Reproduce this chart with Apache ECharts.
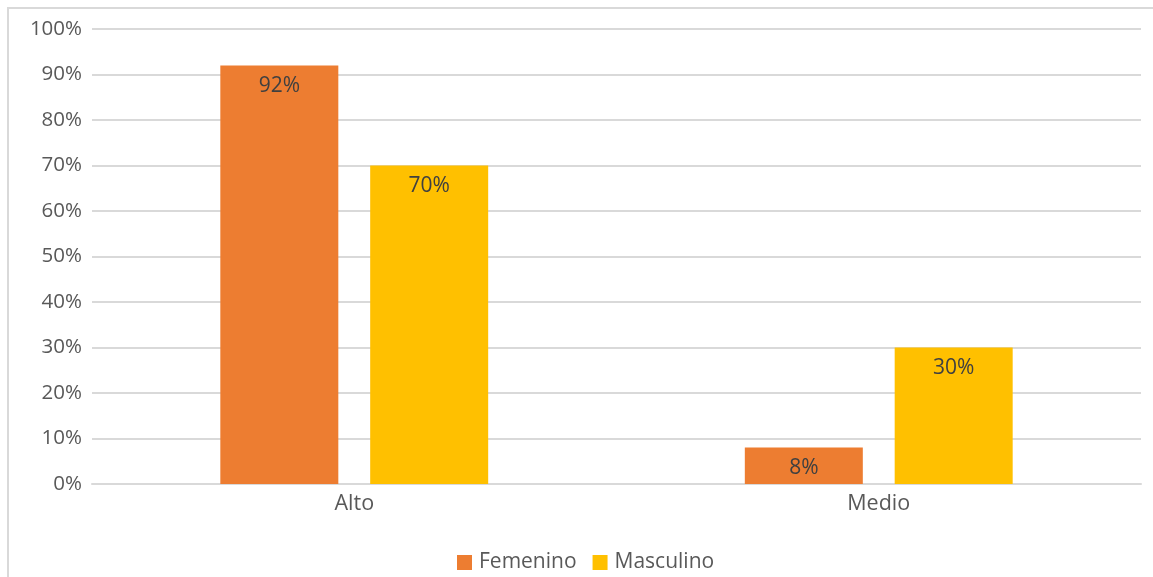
<!DOCTYPE html>
<html>
<head>
<meta charset="utf-8">
<script src="https://cdn.jsdelivr.net/npm/echarts@6/dist/echarts.min.js"></script>
<style>
html,body{margin:0;padding:0;overflow:hidden;background:#fff;}
#frame{position:absolute;left:7px;top:7px;width:1160px;height:600px;border:2px solid #d9d9d9;box-sizing:border-box;}
#chart{position:absolute;left:0;top:0;width:1153px;height:577px;}
</style>
</head>
<body>
<div id="frame"></div>
<div id="chart"></div>
<script>
const categories = ['Alto', 'Medio'];
const femenino = [92, 8];
const masculino = [70, 30];
const seriesNames = ['Femenino', 'Masculino'];

const font = '"Open Sans", "Noto Sans", sans-serif';
const chart = echarts.init(document.getElementById('chart'));
const labelCfg = {
  show: true, position: 'insideTop', distance: 10,
  formatter: p => p.value + '%', color: '#404040', fontSize: 21, fontFamily: font
};
chart.setOption({
  animation: false,
  grid: {left: 92, right: 12, top: 29, bottom: 93, containLabel: false},
  legend: {
    data: seriesNames, left: 452, top: 547, itemWidth: 15, itemHeight: 15, itemGap: 16,
    icon: 'rect',
    textStyle: {color: '#595959', fontSize: 21, fontFamily: font, padding: [0, 0, 0, 2]}
  },
  xAxis: {
    type: 'category', data: categories,
    axisLine: {lineStyle: {color: '#d9d9d9', width: 2}},
    axisTick: {show: false},
    axisLabel: {color: '#595959', fontSize: 21.5, fontFamily: font, margin: 9}
  },
  yAxis: {
    type: 'value', min: 0, max: 100, interval: 10,
    axisLine: {show: false}, axisTick: {show: false},
    splitLine: {lineStyle: {color: '#d9d9d9', width: 2}},
    axisLabel: {formatter: '{value}%', color: '#595959', fontSize: 20.5, fontFamily: font, margin: 10}
  },
  series: [
    {name: seriesNames[0], type: 'bar', data: femenino, barWidth: 118, barGap: '27%',
     itemStyle: {color: '#ED7D31'}, label: labelCfg},
    {name: seriesNames[1], type: 'bar', data: masculino, barWidth: 118,
     itemStyle: {color: '#FFC000'}, label: labelCfg}
  ]
});
</script>
</body>
</html>
